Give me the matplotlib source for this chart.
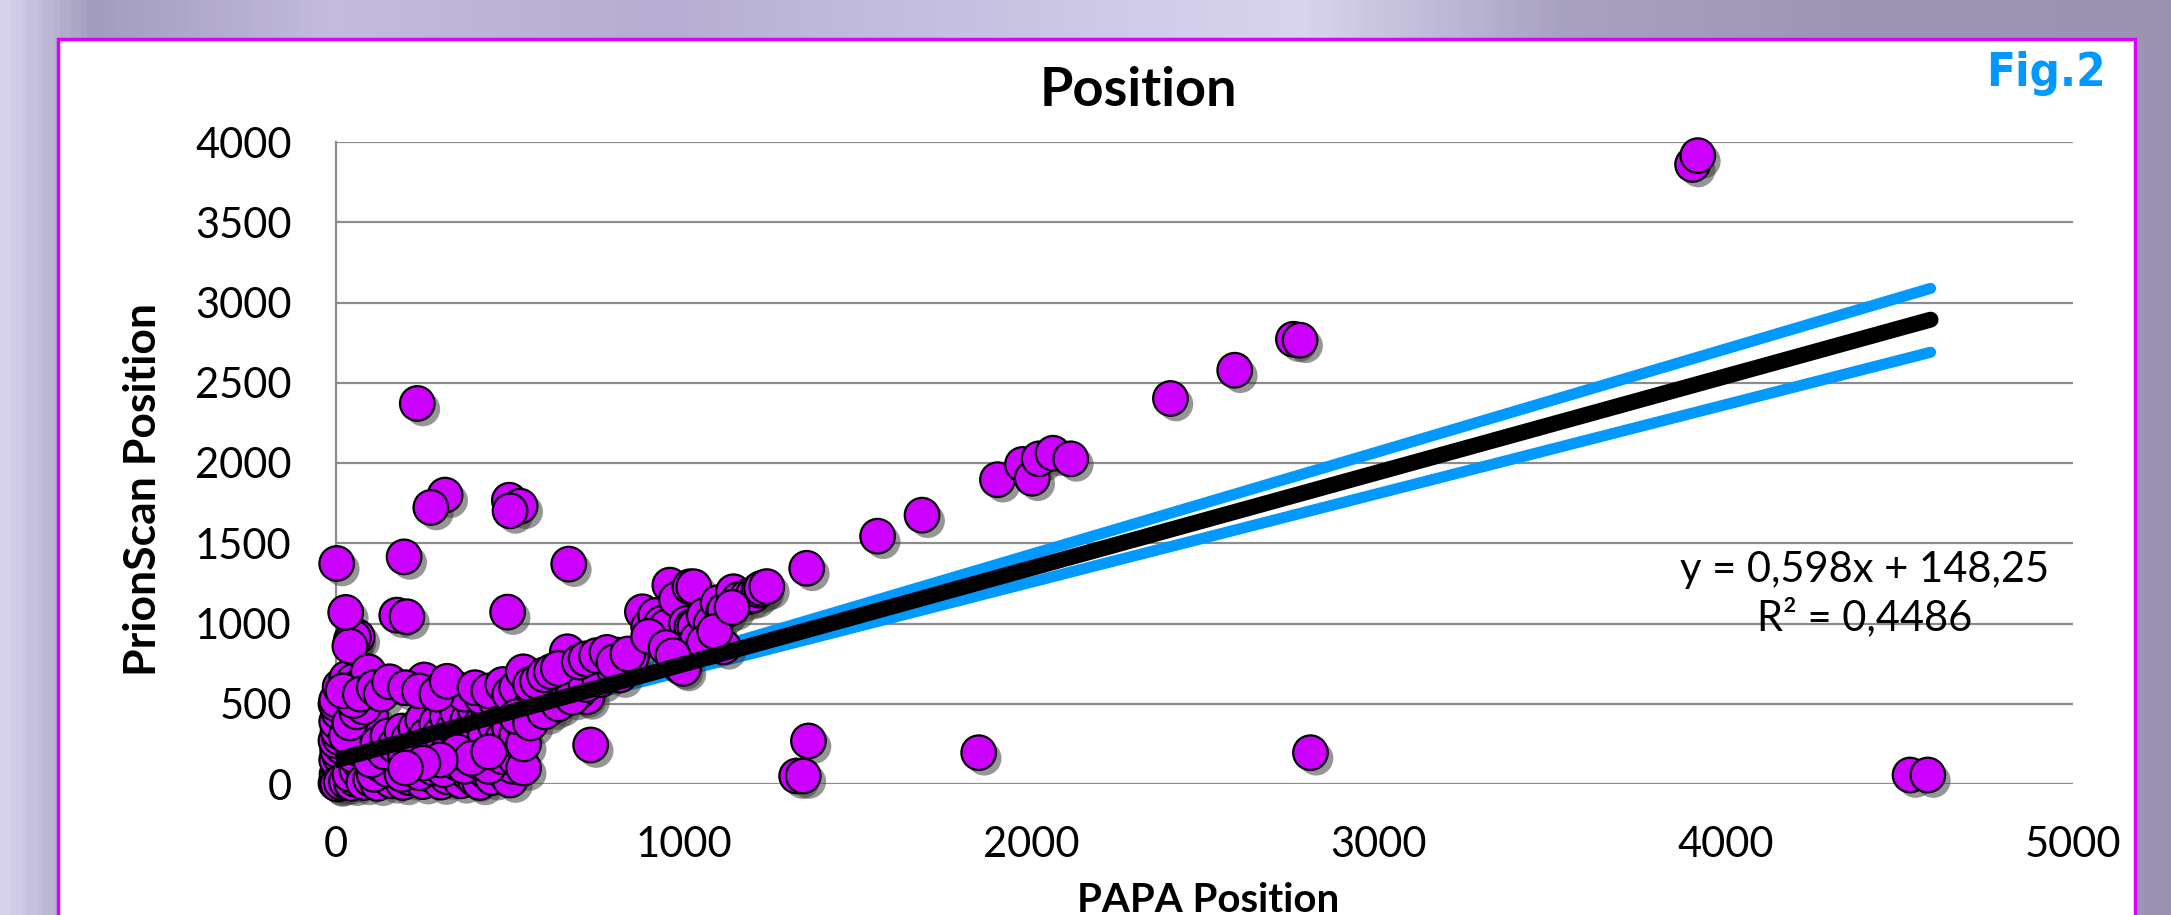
import numpy as np
import matplotlib.pyplot as plt
import matplotlib.patheffects as pe
from matplotlib.colors import LinearSegmentedColormap
from matplotlib.patches import Rectangle

plt.rcParams['font.family'] = ['Lato', 'DejaVu Sans']

# PAPA position (x) vs PrionScan position (y)
papa_pos = [
    # column at x ~ 0
    0, 5, 10, 3, 15, 8, 20, 2, 12, 25, 5, 18, 30, 0, 10, 22, 6, 35, 14, 2,
    28, 40, 8, 31, 0, 12, 20, 2, 45, 12, 31, 50, 60, 44, 61, 50, 40, 28, 2,
    5, 15, 30, 45, 55, 40, 60, 70, 50, 65, 80, 55, 75, 90, 100, 69, 93,
    30, 40, 60, 80, 50, 20, 70, 110, 130,
    # bottom band
    80, 100, 120, 140, 160, 180, 193, 210, 230, 250, 270, 302, 320, 340, 360,
    380, 400, 414, 430, 450, 472, 490, 501, 510,
    110, 130, 150, 170, 190, 220, 240, 260, 280, 310, 330, 350, 370, 390, 410,
    440, 460, 480, 500, 520, 540,
    # diagonal band
    100, 120, 140, 150, 170, 190, 200, 210, 230, 240, 250, 260, 280, 290, 300,
    320, 330, 340, 350, 360, 380, 390, 400, 420, 430, 440, 460, 470, 480, 490,
    500, 510, 520, 530, 540, 350, 390, 440, 300, 250, 200,
    # ridge around 650
    154, 254, 336, 370, 420, 460, 200, 240, 290, 320, 400, 440, 480, 500, 520,
    # middle cluster
    545, 539, 590, 587, 600, 620, 640, 660, 666, 666, 680, 700, 712, 722, 730,
    740, 750, 760, 771, 774, 790, 808, 810, 817, 830, 850, 560, 580, 620, 650,
    690, 700, 733, 520, 560, 600, 640, 680, 720, 760, 800,
    560, 580, 600, 620, 640, 700, 720, 750, 780, 800, 840,
    # cluster 900-1250
    882, 900, 920, 937, 942, 952, 961, 980, 992, 1000, 1009, 1019, 1024, 1030,
    1033, 1040, 1060, 1080, 1100, 1115, 1119, 1115, 1144, 1160, 1184, 1201,
    1218, 1225, 1240, 1060, 1090, 1140, 900, 950, 970,
    # scattered outliers
    196, 670, 234, 314, 273, 499, 530, 501, 175, 204, 494, 1355,
    1360, 1326, 1345, 1850, 2805, 4531, 4582, 1559, 1687,
    1904, 1976, 2004, 2024, 2064, 2115, 2402, 2587, 2756, 2775, 3905, 3920,
]
prionscan_pos = [
    5, 20, 40, 60, 80, 100, 120, 150, 170, 190, 210, 230, 250, 270, 290, 310,
    330, 350, 370, 390, 410, 430, 450, 471, 500, 523, 545, 523, 560, 606, 658,
    640, 600, 897, 917, 913, 859, 1069, 1374,
    0, 10, 15, 5, 30, 60, 90, 130, 180, 220, 260, 300, 340, 380, 420, 523, 699,
    300, 380, 450, 480, 520, 580, 560, 600, 560,
    10, 30, 5, 50, 20, 70, 10, 40, 90, 15, 60, 12, 45, 100, 20,
    70, 30, 10, 80, 40, 170, 60, 25, 110,
    60, 120, 90, 150, 60, 120, 70, 170, 100, 90, 190, 130, 110, 230, 140,
    110, 250, 170, 200, 150, 100,
    150, 250, 200, 300, 240, 330, 180, 280, 350, 240, 400, 300, 230, 380, 310,
    420, 260, 350, 450, 300, 400, 340, 470, 380, 300, 440, 360, 480, 280, 410,
    350, 460, 300, 400, 250, 200, 160, 200, 150, 130, 100,
    637, 648, 606, 560, 540, 520, 600, 580, 560, 640, 600, 580, 620, 560, 600,
    689, 699, 585, 575, 520, 560, 600, 620, 668, 824, 700, 650, 554, 543, 700,
    720, 680, 760, 741, 772, 700, 793, 803, 679, 780, 790, 480, 520, 480, 560,
    600, 580, 243, 420, 380, 450, 500, 540, 620, 650, 720,
    620, 640, 680, 700, 720, 760, 780, 800, 820, 760, 810,
    1073, 980, 1050, 1000, 897, 980, 1239, 1150, 730, 720, 1000, 1229, 980, 1229,
    980, 900, 1050, 1000, 1130, 1073, 1084, 855, 1198, 1150, 1166, 1177,
    1208, 1219, 1230, 880, 950, 1100, 920, 850, 800,
    1415, 1370, 2371, 1800, 1723, 1768, 1731, 1702, 1052, 1042, 1071, 1344,
    268, 50, 50, 195, 195, 56, 56, 1544, 1675,
    1896, 1991, 1905, 2026, 2061, 2026, 2402, 2578, 2771, 2765, 3860, 3915,
]

# linear trend shown on the chart and the two blue bounding lines
slope, intercept = 0.598, 148.25
line_x = [0, 4590]
upper_y = [150, 3088]
lower_y = [150, 2690]
trend_y = [slope * v + intercept for v in line_x]

y_ticks = [0, 500, 1000, 1500, 2000, 2500, 3000, 3500, 4000]
x_ticks = [0, 1000, 2000, 3000, 4000, 5000]

fig = plt.figure(figsize=(21.71, 9.15), dpi=100)

# purple background
bg = fig.add_axes([0, 0, 1, 1], zorder=-2)
cmap = LinearSegmentedColormap.from_list('bg', [
    (0.0, '#d6d2ec'), (0.04, '#a29cbd'), (0.15, '#c3bcdc'), (0.3, '#b5aed2'),
    (0.45, '#c8c2e2'), (0.6, '#d9d5ee'), (0.72, '#a8a2c0'), (0.85, '#9d97b4'),
    (1.0, '#9a94b0')])
grad = np.tile(np.linspace(0, 1, 400), (50, 1))
bg.imshow(grad, cmap=cmap, aspect='auto', extent=[0, 1, 0, 1])
bg.axis('off')

# white panel with magenta border
fig.patches.append(Rectangle((58 / 2171, -0.05), (2135 - 58) / 2171, 1.05 - 39 / 915,
                             transform=fig.transFigure, facecolor='white',
                             edgecolor='#dd00ff', linewidth=2.5, zorder=-1))

ax = fig.add_axes([336 / 2171, 1 - 784 / 915, (2073 - 336) / 2171, (784 - 142) / 915])
ax.set_facecolor('none')
ax.set_xlim(0, 5000)
ax.set_ylim(0, 4000)
ax.set_xticks(x_ticks)
ax.set_yticks(y_ticks)
ax.yaxis.grid(True, color='#8c8c8c', linewidth=1.6)
ax.set_axisbelow(True)
for s in ['top', 'right', 'bottom']:
    ax.spines[s].set_visible(False)
ax.spines['left'].set_color('#8c8c8c')
ax.spines['left'].set_linewidth(1.6)
ax.tick_params(axis='both', length=0, labelsize=30)
ax.tick_params(axis='y', pad=32)
ax.tick_params(axis='x', pad=30)

ax.plot(line_x, upper_y, color='#0099ff', lw=8, solid_capstyle='round', zorder=2)
ax.plot(line_x, lower_y, color='#0099ff', lw=8, solid_capstyle='round', zorder=2)

ax.scatter(papa_pos, prionscan_pos, s=620, color='#cc00ff', edgecolor='black',
           linewidth=1.6, zorder=3, clip_on=False,
           path_effects=[pe.SimplePatchShadow(offset=(4, -4), shadow_rgbFace='0.25', alpha=0.55),
                         pe.Normal()])

ax.plot(line_x, trend_y, color='black', lw=11.5, solid_capstyle='round', zorder=4)

ax.text(0.88, 0.296, 'y = 0,598x + 148,25\nR² = 0,4486', transform=ax.transAxes,
        ha='center', va='center', multialignment='center', fontsize=30, linespacing=1.25)

fig.text(1138 / 2171, 1 - 91 / 915, 'Position', ha='center', va='center',
         fontsize=39, fontweight='bold')
fig.text(2046 / 2171, 1 - 73 / 915, 'Fig.2', ha='center', va='center', fontsize=34,
         fontweight='bold', color='#0099ff', family='DejaVu Sans', fontstretch='condensed')
fig.text(143 / 2171, 1 - 489 / 915, 'PrionScan Position', ha='center', va='center',
         rotation=90, fontsize=32, fontweight='bold')
fig.text(1208 / 2171, 1 - 900 / 915, 'PAPA Position', ha='center', va='center',
         fontsize=29, fontweight='bold')

fig.savefig('out.png', dpi=100)
